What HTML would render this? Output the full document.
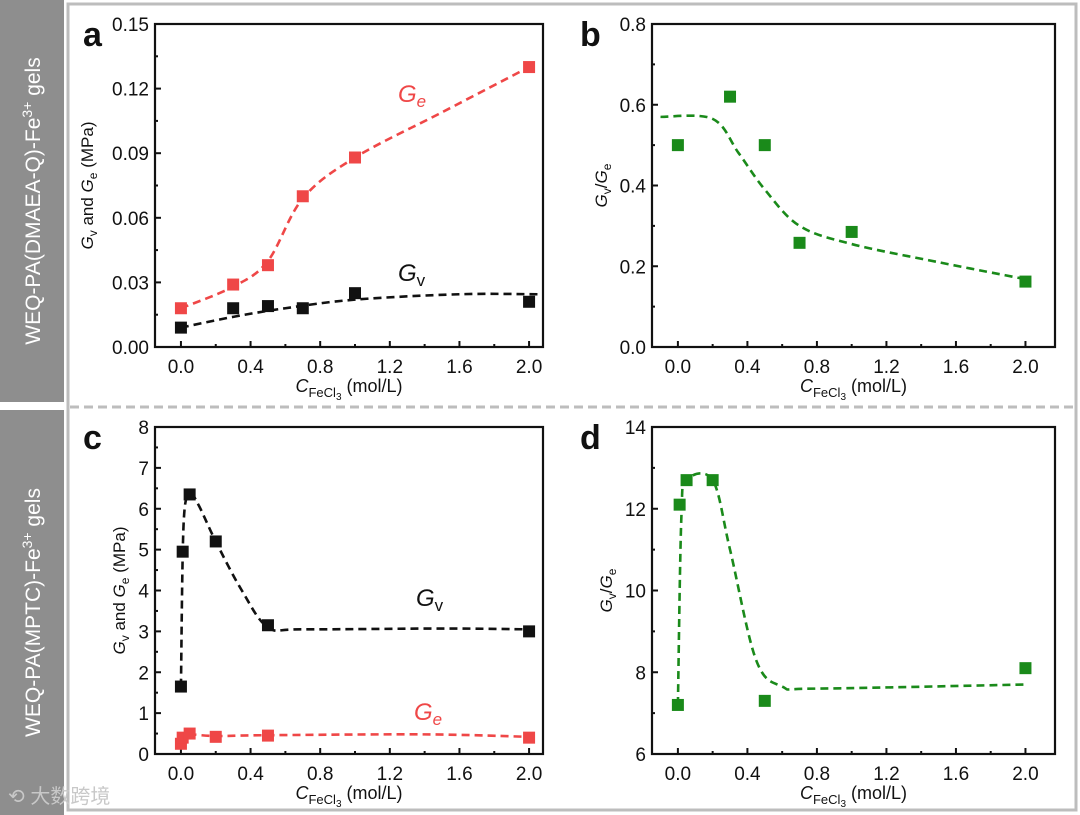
<!DOCTYPE html>
<html><head><meta charset="utf-8"><style>
body{margin:0;background:#fff;}
svg{display:block;font-family:"Liberation Sans",Arial,sans-serif;}
</style></head><body>
<svg id="c" width="1080" height="815"></svg>
<script>
// ---- data ----
const aX=[0,0.3,0.5,0.7,1.0,2.0];
const aGe=[0.018,0.029,0.038,0.070,0.088,0.130];
const aGv=[0.009,0.018,0.019,0.018,0.025,0.021];
const aGeFitX=[0,0.3,0.5,0.7,1.0,1.5,2.0];
const aGeFitY=[0.018,0.028,0.040,0.069,0.088,0.109,0.130];
const aGvFitX=[0,0.3,0.6,1.0,1.6,2.05];
const aGvFitY=[0.009,0.014,0.018,0.022,0.0245,0.0245];
const bX=[0,0.3,0.5,0.7,1.0,2.0];
const bR=[0.50,0.62,0.50,0.258,0.285,0.162];
const bFitX=[-0.1,0.2,0.35,0.5,0.7,1.0,1.5,2.0];
const bFitY=[0.57,0.565,0.48,0.39,0.30,0.255,0.21,0.168];
const cX=[0,0.01,0.05,0.2,0.5,2.0];
const cGv=[1.65,4.95,6.35,5.2,3.15,3.0];
const cGe=[0.25,0.40,0.50,0.42,0.45,0.40];
const cGvFitX=[0,0.015,0.05,0.1,0.2,0.35,0.5,0.7,1.5,2.0];
const cGvFitY=[1.65,5.6,6.35,6.1,5.2,4.0,3.1,3.05,3.07,3.05];
const cGeFitX=[0,0.02,0.05,0.2,0.5,1.4,2.0];
const cGeFitY=[0.25,0.42,0.48,0.44,0.46,0.48,0.42];
const dX=[0,0.01,0.05,0.2,0.5,2.0];
const dR=[7.2,12.1,12.7,12.7,7.3,8.1];
const dFitX=[0,0.02,0.05,0.2,0.3,0.45,0.6,0.8,2.0];
const dFitY=[7.2,11.8,12.7,12.7,11.0,8.3,7.65,7.6,7.7];
const xTicks=[0,0.4,0.8,1.2,1.6,2.0];
const aTicks=[0,0.03,0.06,0.09,0.12,0.15];
const bTicks=[0,0.2,0.4,0.6,0.8];
const cTicks=[0,1,2,3,4,5,6,7,8];
const dTicks=[6,8,10,12,14];

const NS="http://www.w3.org/2000/svg";
const svg=document.getElementById('c');
function el(t,a,p){const e=document.createElementNS(NS,t);for(const k in a)e.setAttribute(k,a[k]);(p||svg).appendChild(e);return e;}
const RED="#ef4747",GREEN="#1a8a1a",BLK="#111";

// frame
let f=el('rect',{x:68,y:4,width:1008,height:806,fill:'none',stroke:'#bdbdbd','stroke-width':3});

let s=el('line',{x1:70,y1:407,x2:1076,y2:407,stroke:'#bdbdbd','stroke-width':3,'stroke-dasharray':'9 5'});

function sideBar(y,h,txt,name){
  const g=el('g',{});
  el('rect',{x:0,y:y,width:64,height:h,fill:'#8e8e8e'},g);
  const t=el('text',{x:0,y:0,fill:'#fff','font-size':21,'text-anchor':'middle',transform:`translate(40,${y+h/2}) rotate(-90)`},g);
  t.innerHTML=txt;
}
sideBar(0,402,'WEQ-PA(DMAEA-Q)-Fe<tspan font-size="14" dy="-8">3+</tspan><tspan dy="8"> gels</tspan>','side-label-top');
sideBar(410,405,'WEQ-PA(MPTC)-Fe<tspan font-size="14" dy="-8">3+</tspan><tspan dy="8"> gels</tspan>','side-label-bottom');
let wm=el('text',{x:8,y:803,fill:'#c8c8c8','font-size':20,'font-family':'"Liberation Sans","Noto Sans CJK SC",sans-serif'});
wm.textContent='⟲ 大数跨境';

function panel(o){
  const g=el('g',{});
  const sx=v=>o.L+(v-o.x0)/(o.x1-o.x0)*(o.R-o.L);
  const sy=v=>o.B-(v-o.y0)/(o.y1-o.y0)*(o.B-o.T);
  // ticks
  xTicks.forEach((v,i)=>{
    const X=sx(v);
    el('line',{x1:X,y1:o.B,x2:X,y2:o.B-6,stroke:BLK,'stroke-width':2},g);
    if(i<xTicks.length-1){const m=sx(v+0.2);el('line',{x1:m,y1:o.B,x2:m,y2:o.B-3,stroke:BLK,'stroke-width':2},g);}
    const t=el('text',{x:X,y:o.B+26,'font-size':19,'text-anchor':'middle',fill:BLK},g);t.textContent=v.toFixed(1);
    
  });
  o.yt.forEach((v,i)=>{
    const Y=sy(v);
    el('line',{x1:o.L,y1:Y,x2:o.L+6,y2:Y,stroke:BLK,'stroke-width':2},g);
    if(i<o.yt.length-1){const m=sy((v+o.yt[i+1])/2);el('line',{x1:o.L,y1:m,x2:o.L+3,y2:m,stroke:BLK,'stroke-width':2},g);}
    const t=el('text',{x:o.L-6,y:Y+7,'font-size':19,'text-anchor':'end',fill:BLK},g);t.textContent=o.fmt(v);
    
  });
  const box=el('rect',{x:o.L,y:o.T,width:o.R-o.L,height:o.B-o.T,fill:'none',stroke:BLK,'stroke-width':2.2},g);
  
  const lt=el('text',{x:o.L-72,y:o.T+22,'font-size':34,'font-weight':'bold',fill:BLK},g);lt.textContent=o.id;
  
  const xl=el('text',{x:(o.L+o.R)/2,y:o.B+45,'font-size':18,'text-anchor':'middle',fill:BLK},g);
  xl.innerHTML='<tspan font-style="italic">C</tspan><tspan font-size="13" dy="5">FeCl</tspan><tspan font-size="10" dy="3">3</tspan><tspan dy="-8"> (mol/L)</tspan>';
  
  const yl=el('text',{'font-size':17,'text-anchor':'middle',fill:BLK,transform:`translate(${o.L-o.yOff},${(o.T+o.B)/2}) rotate(-90)`},g);
  yl.innerHTML=o.ylab;
  o.series.forEach(se=>{
    // curve (catmull-rom)
    const P=se.fx.map((x,i)=>[sx(x),sy(se.fy[i])]);
    let d='M'+P[0][0]+','+P[0][1];
    for(let i=0;i<P.length-1;i++){
      const p0=P[Math.max(0,i-1)],p1=P[i],p2=P[i+1],p3=P[Math.min(P.length-1,i+2)];
      const c1=[p1[0]+(p2[0]-p0[0])/6,p1[1]+(p2[1]-p0[1])/6],c2=[p2[0]-(p3[0]-p1[0])/6,p2[1]-(p3[1]-p1[1])/6];
      d+=` C${c1[0]},${c1[1]} ${c2[0]},${c2[1]} ${p2[0]},${p2[1]}`;
    }
    const pa=el('path',{d:d,fill:'none',stroke:se.c,'stroke-width':2.6,'stroke-dasharray':'8 5'},g);
    
    se.x.forEach((x,i)=>{
      const r=el('rect',{x:sx(x)-6,y:sy(se.y[i])-6,width:12,height:12,fill:se.c},g);
      
    });
  });
  (o.labels||[]).forEach(l=>{
    const t=el('text',{x:l.x,y:l.y,'font-size':24,fill:l.c},g);t.innerHTML=l.h;
    
  });
}
const GvLab='<tspan font-style="italic">G</tspan><tspan font-size="12" dy="4">v</tspan><tspan dy="-4"> and </tspan><tspan font-style="italic">G</tspan><tspan font-size="12" dy="4">e</tspan><tspan dy="-4"> (MPa)</tspan>';
const RLab='<tspan font-style="italic">G</tspan><tspan font-size="12" dy="4">v</tspan><tspan dy="-4">/</tspan><tspan font-style="italic">G</tspan><tspan font-size="12" dy="4">e</tspan>';
panel({id:'a',L:155,R:543,T:24,B:347,x0:-0.149,x1:2.08,y0:0,y1:0.15,yt:aTicks,fmt:v=>v.toFixed(2),yOff:62,ylab:GvLab,
  series:[{name:'ge',c:RED,x:aX,y:aGe,fx:aGeFitX,fy:aGeFitY},{name:'gv',c:BLK,x:aX,y:aGv,fx:aGvFitX,fy:aGvFitY}],
  labels:[{x:398,y:102,c:RED,n:'ge-label',h:'<tspan font-style="italic">G</tspan><tspan font-style="italic" font-size="17" dy="5">e</tspan>'},
          {x:398,y:281,c:BLK,n:'gv-label',h:'<tspan font-style="italic">G</tspan><tspan font-size="17" dy="5">v</tspan>'}]});
panel({id:'b',L:652,R:1055,T:24,B:347,x0:-0.149,x1:2.17,y0:0,y1:0.8,yt:bTicks,fmt:v=>v.toFixed(1),yOff:45,ylab:RLab,
  series:[{name:'ratio',c:GREEN,x:bX,y:bR,fx:bFitX,fy:bFitY}]});
panel({id:'c',L:155,R:543,T:427,B:754,x0:-0.149,x1:2.08,y0:0,y1:8,yt:cTicks,fmt:v=>String(v),yOff:30,ylab:GvLab,
  series:[{name:'gv',c:BLK,x:cX,y:cGv,fx:cGvFitX,fy:cGvFitY},{name:'ge',c:RED,x:cX,y:cGe,fx:cGeFitX,fy:cGeFitY}],
  labels:[{x:416,y:606,c:BLK,n:'gv-label',h:'<tspan font-style="italic">G</tspan><tspan font-size="17" dy="5">v</tspan>'},
          {x:414,y:720,c:RED,n:'ge-label',h:'<tspan font-style="italic">G</tspan><tspan font-style="italic" font-size="17" dy="5">e</tspan>'}]});
panel({id:'d',L:652,R:1055,T:427,B:754,x0:-0.149,x1:2.17,y0:6,y1:14,yt:dTicks,fmt:v=>String(v),yOff:40,ylab:RLab,
  series:[{name:'ratio',c:GREEN,x:dX,y:dR,fx:dFitX,fy:dFitY}]});
</script>
</body></html>
